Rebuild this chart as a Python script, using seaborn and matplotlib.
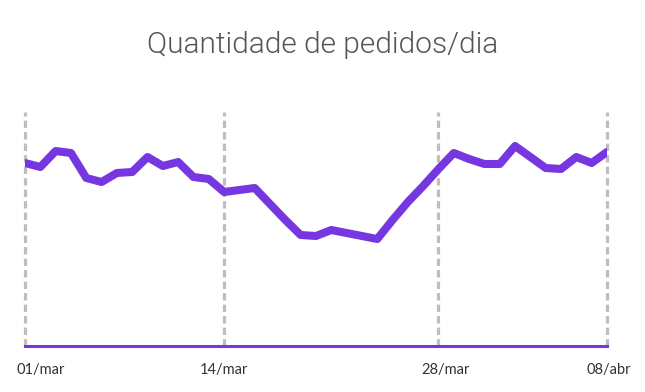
import pandas as pd
import matplotlib
matplotlib.use('Agg')
import matplotlib.pyplot as plt
import matplotlib.transforms as mtransforms
import seaborn as sns

# Dados (pedidos por dia, 01/mar a 08/abr)
dias = pd.date_range('2023-03-01', '2023-04-08', freq='D')
pedidos = [183, 179, 195, 193, 168, 164, 173, 174, 189, 180,
           184, 169, 167, 154, 156, 158, 142, 126, 111, 110,
           116, 113, 110, 107, 126, 144, 160, 177, 193, 187,
           182, 182, 200, 189, 178, 177, 189, 183, 194]
marcos = pd.to_datetime(['2023-03-01', '2023-03-14', '2023-03-28', '2023-04-08'])
rotulos = ['01/mar', '14/mar', '28/mar', '08/abr']

df = pd.DataFrame({'dia': dias, 'pedidos': pedidos})

roxo = '#7637E0'
sns.set_style('white')
plt.rcParams['font.family'] = ['Lato', 'DejaVu Sans']

fig = plt.figure(figsize=(6.45, 3.92), dpi=100)
ax = fig.add_axes([0.0388, 0.1173, 0.9022, 0.597])

# linhas verticais tracejadas nos marcos
for m in marcos:
    ax.axvline(m, color='#BEBEBE', lw=2.3, linestyle=(0, (2.3, 1.3)), zorder=1, clip_on=False)

sns.lineplot(data=df, x='dia', y='pedidos', color=roxo, lw=5.8, ax=ax, zorder=3)

ax.set_xlim(dias[0], dias[-1])
ax.set_ylim(0, 234)
ax.set_yticks([])
ax.set_xticks(marcos)
ax.set_xticklabels(rotulos, fontsize=10.5, color='#333333')
ax.tick_params(axis='x', length=0, pad=12)
ax.set_xlabel('')
ax.set_ylabel('')

for lado in ['top', 'left', 'right']:
    ax.spines[lado].set_visible(False)
ax.spines['bottom'].set_color(roxo)
ax.spines['bottom'].set_linewidth(2.2)
ax.spines['bottom'].set_zorder(4)

# deslocamento dos rótulos como no original
desloc = [16, 0, 7, 2]
for lbl, dx in zip(ax.get_xticklabels(), desloc):
    lbl.set_transform(lbl.get_transform() + mtransforms.ScaledTranslation(dx / 100, 0, fig.dpi_scale_trans))

fig.text(0.5, 0.885, 'Quantidade de pedidos/dia', ha='center', va='center',
         fontsize=21.5, color='#555555', fontweight=300,
         family=['Roboto', 'Lato', 'DejaVu Sans'])

fig.savefig('out.png', dpi=100, facecolor='white')
